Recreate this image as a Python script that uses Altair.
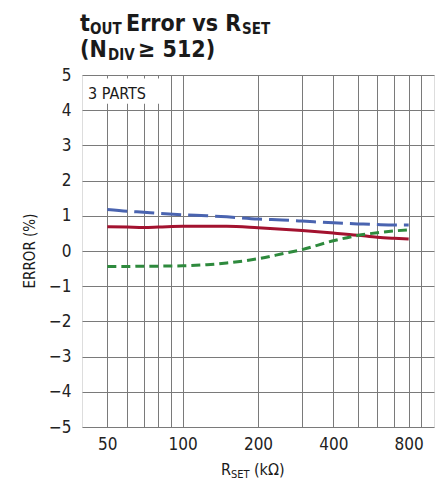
import altair as alt
import pandas as pd

# ---- data ----
r_set = [50, 60, 70, 80, 100, 125, 150, 200, 250, 300, 400, 500, 600, 700, 800]
err_part1 = [1.18, 1.13, 1.10, 1.07, 1.03, 1.00, 0.97, 0.91, 0.88, 0.85, 0.80, 0.77, 0.75, 0.74, 0.74]
err_part2 = [0.69, 0.68, 0.67, 0.68, 0.70, 0.70, 0.70, 0.66, 0.62, 0.58, 0.51, 0.45, 0.39, 0.36, 0.34]
err_part3 = [-0.44, -0.44, -0.43, -0.43, -0.42, -0.39, -0.34, -0.22, -0.08, 0.04, 0.29, 0.44, 0.52, 0.57, 0.60]

x_grid = [50, 60, 70, 80, 90, 100, 200, 300, 400, 500, 600, 700, 800, 900]
x_labels = [50, 100, 200, 400, 800]
y_ticks = [-5, -4, -3, -2, -1, 0, 1, 2, 3, 4, 5]

FONT = "DejaVu Sans Condensed, Liberation Sans Narrow, sans-serif"
W, H = 352, 352
X_DOMAIN = [39.6, 1010]

df = pd.DataFrame({
    "r": r_set * 3,
    "err": err_part1 + err_part2 + err_part3,
    "part": ["A"] * len(r_set) + ["B"] * len(r_set) + ["C"] * len(r_set),
})

xscale = alt.Scale(type="log", domain=X_DOMAIN, nice=False)
yscale = alt.Scale(domain=[-5, 5], nice=False)

label_expr = "indexof([" + ",".join(str(v) for v in x_labels) + "], datum.value) >= 0 ? datum.label : ''"

xaxis = alt.Axis(values=x_grid, labelExpr=label_expr, grid=True, gridColor="#7a7a7a",
                 gridWidth=1, ticks=False, domain=False, labelFontSize=17, labelFont=FONT,
                 labelColor="#222", labelPadding=9, title=None, labelFlush=False,
                 labelOverlap=False)
yaxis = alt.Axis(values=y_ticks, grid=True, gridColor="#7a7a7a", gridWidth=1, ticks=False,
                 domain=False, labelFontSize=17, labelFont=FONT, labelColor="#222",
                 labelPadding=11, title=None, labelOverlap=False, labelFlush=False)

lines_base = alt.Chart(df).encode(
    x=alt.X("r:Q", scale=xscale, axis=xaxis),
    y=alt.Y("err:Q", scale=yscale, axis=yaxis),
)

def line(part, color, dash):
    kw = dict(color=color, strokeWidth=3, interpolate="monotone", clip=True)
    if dash:
        kw["strokeDash"] = dash
    return lines_base.transform_filter(alt.datum.part == part).mark_line(**kw)

l1 = line("A", "#4a64b0", [20, 7])
l2 = line("B", "#a3122f", None)
l3 = line("C", "#2e8a3d", [9, 5])

# white label box "3 PARTS"
box_df = pd.DataFrame({"r": [X_DOMAIN[0] * 1.01], "r2": [88], "err": [4.18], "err2": [4.9]})
box = alt.Chart(box_df).mark_rect(color="white").encode(
    x=alt.X("r:Q", scale=xscale, axis=xaxis), x2="r2:Q",
    y=alt.Y("err:Q", scale=yscale, axis=yaxis), y2="err2:Q")

def txt(s, x, y, size, weight="normal", angle=0, align="left", baseline="alphabetic"):
    kw = dict(font=FONT, fontSize=size, fontWeight=weight, align=align,
              baseline=baseline, color="#1a1a1a")
    if angle:
        kw["angle"] = angle
    return alt.Chart(pd.DataFrame({"t": [s]})).mark_text(**kw).encode(
        text="t:N", x=alt.value(x), y=alt.value(y))

OX, OY = 82, 75  # plot origin in page pixels
texts = [
    txt("3 PARTS", 88 - OX, 99 - OY, 16),
    # title line 1
    txt("t", 80 - OX, 31 - OY, 23, "bold"),
    txt("OUT", 90 - OX, 34 - OY, 15, "bold"),
    txt("Error vs R", 126 - OX, 31 - OY, 23, "bold"),
    txt("SET", 242 - OX, 34 - OY, 15, "bold"),
    # title line 2
    txt("(N", 80 - OX, 57 - OY, 23, "bold"),
    txt("DIV", 108 - OX, 60 - OY, 15, "bold"),
    txt("\u2265 512)", 138 - OX, 57 - OY, 23, "bold"),
    # x axis title
    txt("R", 221 - OX, 475 - OY, 16),
    txt("SET", 231 - OX, 478 - OY, 11),
    txt("(k\u03a9)", 254 - OX, 475 - OY, 16),
    # y axis title
    txt("ERROR (%)", 30 - OX, 251 - OY, 15, angle=270, align="center", baseline="middle"),
]

chart = alt.layer(l1, l2, l3, box, *texts).properties(
    width=W, height=H,
    autosize=alt.AutoSizeParams(type="none"),
    padding={"left": OX, "top": OY, "right": 441 - OX - W, "bottom": 492 - OY - H},
).configure_view(stroke="#333333", strokeWidth=1.5).configure(background="white")

chart.save("out.html", embed_options={"renderer": "svg", "actions": False})
